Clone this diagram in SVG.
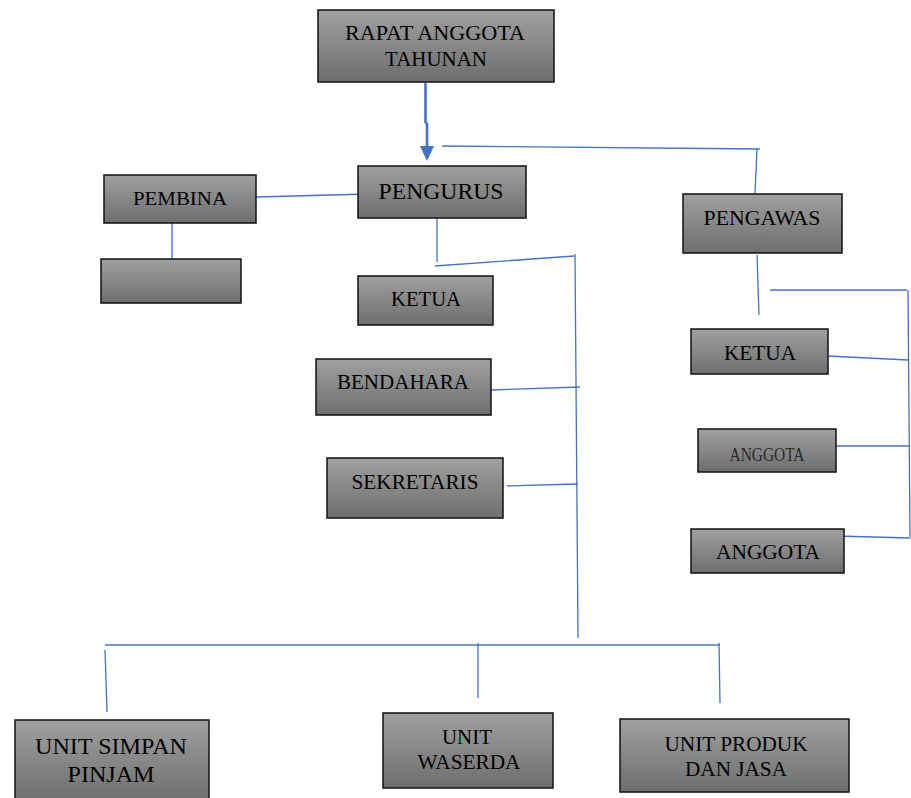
<svg xmlns="http://www.w3.org/2000/svg" width="911" height="798" viewBox="0 0 911 798">
<style>
.box{fill:url(#g);stroke:#111;stroke-width:1.5}
text{font-family:'Liberation Serif',serif;fill:#000;text-anchor:middle}
.c{stroke:#4472C4;stroke-width:1.3;fill:none}
</style>
<defs>
<linearGradient id="g" x1="0" y1="0" x2="0" y2="1">
<stop offset="0" stop-color="#a0a0a0"/>
<stop offset="1" stop-color="#6e6e6e"/>
</linearGradient>
</defs>
<rect width="911" height="798" fill="#fff"/>
<g id="connectors">
<path d="M425.5 83 L425.5 122 L427 124 L427 147" stroke="#4472C4" stroke-width="2.6" fill="none"/>
<path d="M420 146 L434 146 L427 161 Z" fill="#4472C4"/>
<path class="c" d="M442 146 L760 149"/>
<path class="c" d="M757 149 L755 193"/>
<path class="c" d="M256 197 L369 194"/>
<path class="c" d="M172 218 L172 259"/>
<path class="c" d="M437 212 L437 262"/>
<path class="c" d="M435 266 L574 256"/>
<path class="c" d="M575 254 L578 638"/>
<path class="c" d="M491 390 L580 387"/>
<path class="c" d="M507 486 L578 484"/>
<path class="c" d="M757 255 L759 315"/>
<path class="c" d="M770 290 L907 290"/>
<path class="c" d="M908 290 L910 537"/>
<path class="c" d="M828 356 L908 360"/>
<path class="c" d="M822 446 L910 446"/>
<path class="c" d="M836 536 L910 538"/>
<path class="c" d="M105 645 L720 645"/>
<path class="c" d="M105 650 L107 712"/>
<path class="c" d="M478 643 L478 698"/>
<path class="c" d="M719 643 L720 703"/>
</g>
<g id="rapat">
<rect class="box" x="318" y="10" width="236" height="72"/>
<text x="435" y="40" font-size="20" textLength="180" lengthAdjust="spacingAndGlyphs">RAPAT ANGGOTA</text>
<text x="436" y="66" font-size="20" textLength="102" lengthAdjust="spacingAndGlyphs">TAHUNAN</text>
</g>
<g id="pengurus">
<rect class="box" x="358" y="166" width="168" height="52"/>
<text x="441" y="199" font-size="24" textLength="125" lengthAdjust="spacingAndGlyphs">PENGURUS</text>
</g>
<g id="pembina">
<rect class="box" x="104" y="175" width="152" height="48"/>
<text x="180" y="205" font-size="19" textLength="94" lengthAdjust="spacingAndGlyphs">PEMBINA</text>
</g>
<g id="blank">
<rect class="box" x="101" y="259" width="140" height="44"/>
</g>
<g id="pengawas">
<rect class="box" x="683" y="194" width="159" height="59"/>
<text x="762" y="225" font-size="20" textLength="117" lengthAdjust="spacingAndGlyphs">PENGAWAS</text>
</g>
<g id="ketua1">
<rect class="box" x="358" y="276" width="135" height="49"/>
<text x="426" y="306" font-size="20" textLength="70" lengthAdjust="spacingAndGlyphs">KETUA</text>
</g>
<g id="bendahara">
<rect class="box" x="316" y="359" width="175" height="56"/>
<text x="403" y="389" font-size="20" textLength="132" lengthAdjust="spacingAndGlyphs">BENDAHARA</text>
</g>
<g id="sekretaris">
<rect class="box" x="327" y="458" width="176" height="60"/>
<text x="415" y="489" font-size="20" textLength="127" lengthAdjust="spacingAndGlyphs">SEKRETARIS</text>
</g>
<g id="ketua2">
<rect class="box" x="691" y="329" width="137" height="45"/>
<text x="760" y="360" font-size="20" textLength="72" lengthAdjust="spacingAndGlyphs">KETUA</text>
</g>
<g id="anggota1">
<rect class="box" x="698" y="429" width="138" height="43"/>
<text x="767" y="461" font-size="18" textLength="75" lengthAdjust="spacingAndGlyphs" style="fill:#2a2a2a">ANGGOTA</text>
</g>
<g id="anggota2">
<rect class="box" x="691" y="529" width="153" height="44"/>
<text x="768" y="559" font-size="20" textLength="104" lengthAdjust="spacingAndGlyphs">ANGGOTA</text>
</g>
<g id="usp">
<rect class="box" x="15" y="720" width="194" height="82"/>
<text x="111" y="754" font-size="24" textLength="152" lengthAdjust="spacingAndGlyphs">UNIT SIMPAN</text>
<text x="111" y="782" font-size="24" textLength="87" lengthAdjust="spacingAndGlyphs">PINJAM</text>
</g>
<g id="waserda">
<rect class="box" x="383" y="713" width="170" height="75"/>
<text x="467" y="744" font-size="20" textLength="50" lengthAdjust="spacingAndGlyphs">UNIT</text>
<text x="469" y="769" font-size="20" textLength="103" lengthAdjust="spacingAndGlyphs">WASERDA</text>
</g>
<g id="produk">
<rect class="box" x="620" y="719" width="229" height="73"/>
<text x="736" y="751" font-size="21" textLength="143" lengthAdjust="spacingAndGlyphs">UNIT PRODUK</text>
<text x="736" y="776" font-size="21" textLength="102" lengthAdjust="spacingAndGlyphs">DAN JASA</text>
</g>
</svg>
